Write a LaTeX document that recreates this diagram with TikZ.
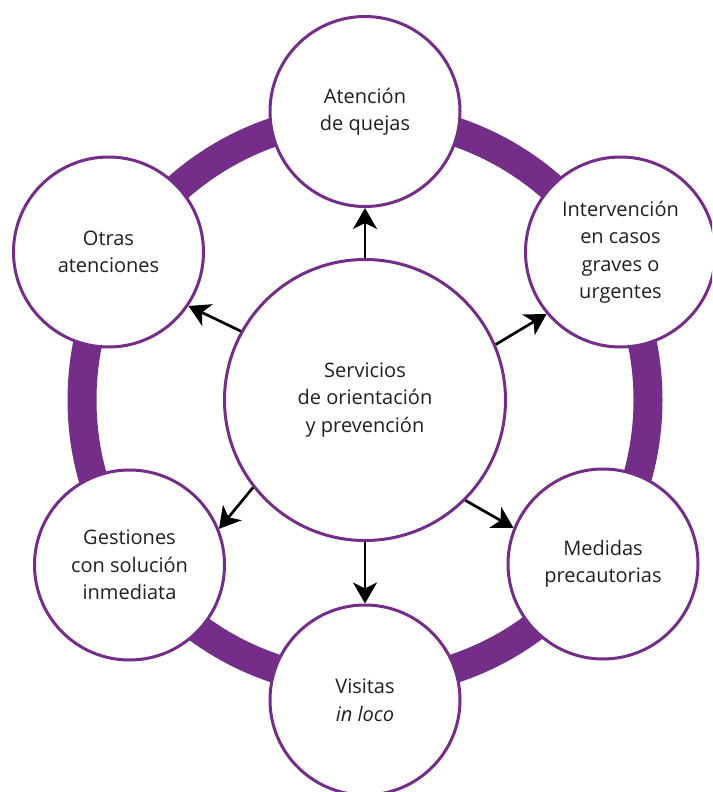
\documentclass[tikz,border=0pt]{standalone}
\usepackage{fontspec}
\setmainfont{Open Sans}
\usetikzlibrary{arrows.meta}
\definecolor{ringpurple}{RGB}{116,46,136}
\definecolor{txt}{RGB}{35,31,32}
\begin{document}
\begin{tikzpicture}[x=1pt,y=-1pt,
  sat/.style={circle,draw=ringpurple,line width=3pt,fill=white,minimum size=190pt,inner sep=0pt,align=center,text=txt,font=\fontsize{20}{27.5}\selectfont},
  hub/.style={sat,minimum size=281pt},
  arr/.style={-{Stealth[length=21pt,width=24pt,inset=6pt]},line width=2.7pt,black}]
\useasboundingbox (0,0) rectangle (712,792);
\clip (0,0) rectangle (712,792);
\draw[ringpurple,line width=29pt] (365,400) circle[radius=283pt];
\node[hub] (c) at (365,400) {Servicios\\de orientación\\y prevención};
\node[sat] (top) at (365,111.5) {Atención\\de quejas};
\node[sat] (ur) at (620.5,252) {Intervención\\en casos\\graves o\\urgentes};
\node[sat] (lr) at (603,564) {Medidas\\precautorias};
\node[sat] (bot) at (365,700) {Visitas\\\textit{in loco}};
\node[sat] (ll) at (129.5,565) {Gestiones\\con solución\\inmediata};
\node[sat] (ul) at (108.5,252) {Otras\\atenciones};
\draw[arr] (c.90) -- (top.270);
\draw[arr] (c.23.2) -- (ur.220);
\draw[arr] (c.151.5) -- (ul.326.5);
\draw[arr] (c.218.8) -- (ll.22.8);
\draw[arr] (c.270) -- (bot.90);
\draw[arr] (c.315.8) -- (lr.158.7);
\end{tikzpicture}
\end{document}
